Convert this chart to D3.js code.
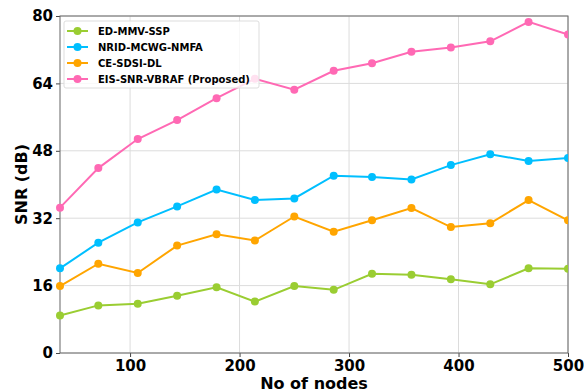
<!DOCTYPE html>
<html lang="en">
<head>
    <meta charset="UTF-8">
    <title>SNR vs nodes</title>
    <script src="https://d3js.org/d3.v7.min.js"></script>
    <style>
        body { margin: 0; background: #fff; }
        svg { font-family: "DejaVu Sans", sans-serif; }
    </style>
</head>
<body>
    <svg id="chart" width="584" height="392"></svg>

    <script>
        // x positions (number of nodes)
        const nodes = [36, 71, 107, 143, 179, 214, 250, 286, 321, 357, 393, 429, 464, 500];

        const edMmvSsp = [8.9, 11.3, 11.7, 13.6, 15.6, 12.2, 15.9, 15.0, 18.8, 18.6, 17.5, 16.3, 20.1, 20.0];
        const nridMcwgNmfa = [20.1, 26.2, 31.0, 34.8, 38.8, 36.3, 36.7, 42.1, 41.8, 41.2, 44.6, 47.2, 45.6, 46.3];
        const ceSdsiDl = [15.9, 21.2, 19.0, 25.5, 28.2, 26.7, 32.4, 28.8, 31.5, 34.4, 29.9, 30.8, 36.3, 31.5];
        const eisSnrVbraf = [34.5, 43.9, 50.8, 55.3, 60.5, 65.1, 62.5, 67.0, 68.8, 71.5, 72.5, 74.0, 78.6, 75.6];

        const seriesNames = ["ED-MMV-SSP", "NRID-MCWG-NMFA", "CE-SDSI-DL", "EIS-SNR-VBRAF (Proposed)"];
        const seriesColors = ["#9acd32", "#00bfff", "#ffa500", "#ff69b4"];
        const xTicks = [100, 200, 300, 400, 500];
        const yTicks = [0, 16, 32, 48, 64, 80];

        function program() {
            const allSeries = [edMmvSsp, nridMcwgNmfa, ceSdsiDl, eisSnrVbraf];

            const margin = { left: 60, right: 16, top: 16, bottom: 39 };
            const width = 584 - margin.left - margin.right;
            const height = 392 - margin.top - margin.bottom;

            const svg = d3.select("#chart");
            const g = svg.append("g")
                .attr("transform", `translate(${margin.left},${margin.top})`);

            const x = d3.scaleLinear().domain([36, 500]).range([0, width]);
            const y = d3.scaleLinear().domain([0, 80]).range([height, 0]);

            // grid
            g.append("g")
                .selectAll("line")
                .data(xTicks)
                .join("line")
                .attr("x1", d => x(d)).attr("x2", d => x(d))
                .attr("y1", 0).attr("y2", height)
                .style("stroke", "#dcdcdc")
                .style("stroke-width", 1);

            g.append("g")
                .selectAll("line")
                .data(yTicks)
                .join("line")
                .attr("x1", 0).attr("x2", width)
                .attr("y1", d => y(d)).attr("y2", d => y(d))
                .style("stroke", "#dcdcdc")
                .style("stroke-width", 1);

            // axes
            const xAxis = g.append("g")
                .attr("transform", `translate(0,${height})`)
                .call(d3.axisBottom(x).tickValues(xTicks).tickSize(4).tickPadding(3));
            const yAxis = g.append("g")
                .call(d3.axisLeft(y).tickValues(yTicks).tickSize(4).tickPadding(3));

            [xAxis, yAxis].forEach(a => {
                a.select(".domain").remove();
                a.selectAll("line").style("stroke", "#444");
                a.selectAll("text")
                    .style("font-family", "DejaVu Sans")
                    .style("font-weight", "bold")
                    .style("font-size", "15px")
                    .style("fill", "#000");
            });

            // frame
            g.append("rect")
                .attr("width", width)
                .attr("height", height)
                .style("fill", "none")
                .style("stroke", "#666")
                .style("stroke-width", 1);

            const line = d3.line()
                .x((d, i) => x(nodes[i]))
                .y(d => y(d));

            const clip = svg.append("defs").append("clipPath").attr("id", "clip")
                .append("rect").attr("x", -6).attr("y", -6)
                .attr("width", width + 6).attr("height", height + 12);

            const plot = g.append("g").attr("clip-path", "url(#clip)");

            allSeries.forEach((s, k) => {
                plot.append("path")
                    .datum(s)
                    .attr("d", line)
                    .style("fill", "none")
                    .style("stroke", seriesColors[k])
                    .style("stroke-width", 2);

                plot.append("g")
                    .selectAll("circle")
                    .data(s)
                    .join("circle")
                    .attr("cx", (d, i) => x(nodes[i]))
                    .attr("cy", d => y(d))
                    .attr("r", 4)
                    .style("fill", seriesColors[k]);
            });

            // legend
            const legend = g.append("g").attr("transform", "translate(4,5)");
            legend.append("rect")
                .attr("width", 195)
                .attr("height", 67)
                .attr("rx", 2)
                .style("fill", "#fff")
                .style("fill-opacity", 0.8)
                .style("stroke", "#ddd");

            seriesNames.forEach((name, k) => {
                const row = legend.append("g").attr("transform", `translate(0,${10 + k * 16})`);
                row.append("line")
                    .attr("x1", 3).attr("x2", 24)
                    .style("stroke", seriesColors[k])
                    .style("stroke-width", 2);
                row.append("circle")
                    .attr("cx", 13.5).attr("r", 4)
                    .style("fill", seriesColors[k]);
                row.append("text")
                    .attr("x", 34)
                    .attr("dy", "0.35em")
                    .text(name)
                    .style("font-weight", "bold")
                    .style("font-size", "10px");
            });

            // axis titles
            svg.append("text")
                .attr("x", margin.left + width / 2)
                .attr("y", 389)
                .attr("text-anchor", "middle")
                .style("font-weight", "bold")
                .style("font-size", "16px")
                .text("No of nodes");

            svg.append("text")
                .attr("transform", `translate(27,${margin.top + height / 2}) rotate(-90)`)
                .attr("text-anchor", "middle")
                .style("font-weight", "bold")
                .style("font-size", "16px")
                .text("SNR (dB)");
        }

        program();
    </script>
</body>
</html>
